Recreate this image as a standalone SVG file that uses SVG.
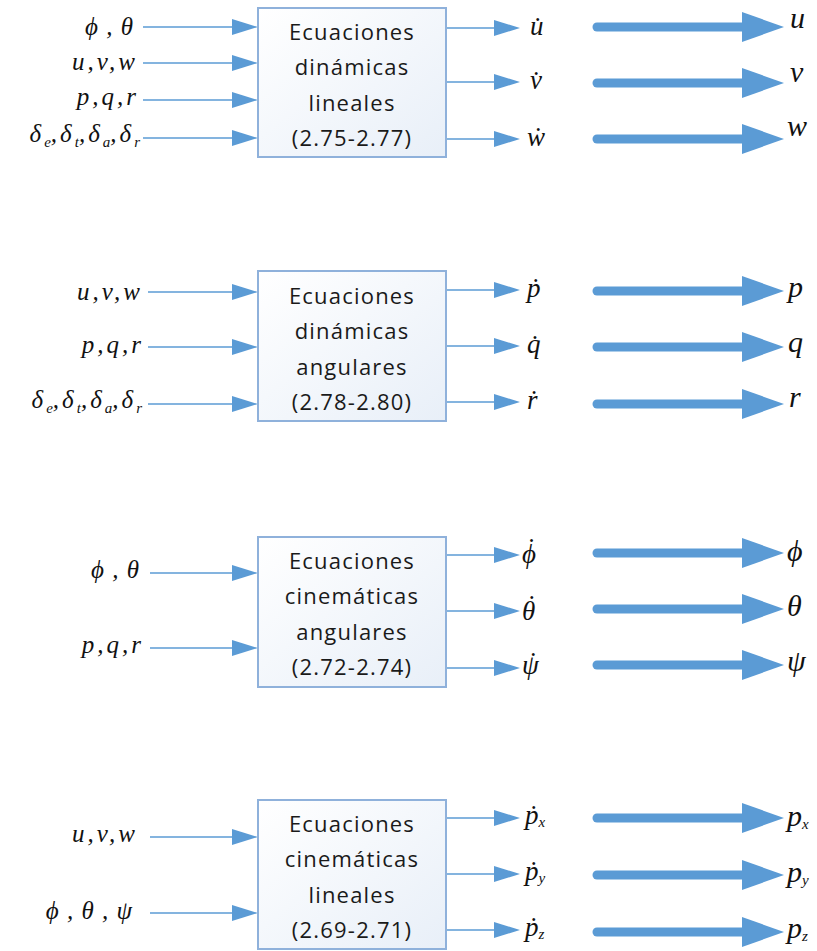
<svg xmlns="http://www.w3.org/2000/svg" width="817" height="951" viewBox="0 0 817 951">
<style>
.box{fill:url(#bg);stroke:#8FB1DB;stroke-width:2}
.bt{font-family:"Open Sans","Liberation Sans",sans-serif;font-size:22px;letter-spacing:1.2px;fill:#1a1a1a;text-anchor:middle}
.thin{stroke:#5B9BD5;stroke-width:1.6;fill:none;marker-end:url(#ah)}
.thick{stroke:#5B9BD5;stroke-width:9;stroke-linecap:round;fill:none;marker-end:url(#ahb)}
.m{font-family:"Liberation Serif","DejaVu Serif",serif;font-style:italic;fill:#111}
.dot{font-style:normal}
.in{font-size:25px;text-anchor:end;letter-spacing:3px}
.gr{letter-spacing:1px}
.out{font-size:27px}
.fin{font-size:30px}
.sub{font-size:15px;letter-spacing:0}
</style>
<defs>
<linearGradient id="bg" x1="0" y1="0" x2="1" y2="1">
<stop offset="0" stop-color="#FFFFFF"/>
<stop offset="1" stop-color="#E8EFF8"/>
</linearGradient>
<marker id="ah" markerUnits="userSpaceOnUse" markerWidth="26" markerHeight="16" refX="0" refY="8" orient="auto">
<path d="M0,0 L26,8 L0,16 z" fill="#5B9BD5"/>
</marker>
<marker id="ahb" markerUnits="userSpaceOnUse" markerWidth="42" markerHeight="30" refX="0" refY="15" orient="auto">
<path d="M0,0 L42,15 L0,30 z" fill="#5B9BD5"/>
</marker>
</defs>

<g id="connectors">
<line class="thin" x1="143" y1="27" x2="232" y2="27"/>
<line class="thin" x1="143" y1="63" x2="232" y2="63"/>
<line class="thin" x1="143" y1="100" x2="232" y2="100"/>
<line class="thin" x1="143" y1="138" x2="232" y2="138"/>
<line class="thin" x1="446" y1="28" x2="494" y2="28"/>
<line class="thin" x1="446" y1="82" x2="494" y2="82"/>
<line class="thin" x1="446" y1="139" x2="494" y2="139"/>
<line class="thick" x1="597" y1="27" x2="742" y2="27"/>
<line class="thick" x1="597" y1="83" x2="742" y2="83"/>
<line class="thick" x1="597" y1="139" x2="742" y2="139"/>
<line class="thin" x1="148" y1="292" x2="232" y2="292"/>
<line class="thin" x1="148" y1="347" x2="232" y2="347"/>
<line class="thin" x1="148" y1="404" x2="232" y2="404"/>
<line class="thin" x1="446" y1="290" x2="494" y2="290"/>
<line class="thin" x1="446" y1="346" x2="494" y2="346"/>
<line class="thin" x1="446" y1="402" x2="494" y2="402"/>
<line class="thick" x1="597" y1="291" x2="742" y2="291"/>
<line class="thick" x1="597" y1="347" x2="742" y2="347"/>
<line class="thick" x1="597" y1="404" x2="742" y2="404"/>
<line class="thin" x1="150" y1="573" x2="232" y2="573"/>
<line class="thin" x1="150" y1="648" x2="232" y2="648"/>
<line class="thin" x1="446" y1="555" x2="494" y2="555"/>
<line class="thin" x1="446" y1="611" x2="494" y2="611"/>
<line class="thin" x1="446" y1="668" x2="494" y2="668"/>
<line class="thick" x1="597" y1="553" x2="742" y2="553"/>
<line class="thick" x1="597" y1="609" x2="742" y2="609"/>
<line class="thick" x1="597" y1="665" x2="742" y2="665"/>
<line class="thin" x1="150" y1="837" x2="232" y2="837"/>
<line class="thin" x1="150" y1="913" x2="232" y2="913"/>
<line class="thin" x1="446" y1="818" x2="494" y2="818"/>
<line class="thin" x1="446" y1="874" x2="494" y2="874"/>
<line class="thin" x1="446" y1="930" x2="494" y2="930"/>
<line class="thick" x1="597" y1="818" x2="742" y2="818"/>
<line class="thick" x1="597" y1="875" x2="742" y2="875"/>
<line class="thick" x1="597" y1="932" x2="742" y2="932"/>
</g>

<g id="node-lineales-dinamicas">
<rect class="box" x="258" y="8" width="188" height="149"/>
<text class="bt" x="352" y="40">Ecuaciones</text>
<text class="bt" x="352" y="75">dinámicas</text>
<text class="bt" x="352" y="111">lineales</text>
<text class="bt" x="352" y="146">(2.75-2.77)</text>
</g>
<g id="node-angulares-dinamicas">
<rect class="box" x="258" y="271" width="188" height="150"/>
<text class="bt" x="352" y="304">Ecuaciones</text>
<text class="bt" x="352" y="339">dinámicas</text>
<text class="bt" x="352" y="375">angulares</text>
<text class="bt" x="352" y="410">(2.78-2.80)</text>
</g>
<g id="node-angulares-cinematicas">
<rect class="box" x="258" y="537" width="188" height="150"/>
<text class="bt" x="352" y="569">Ecuaciones</text>
<text class="bt" x="352" y="604">cinemáticas</text>
<text class="bt" x="352" y="640">angulares</text>
<text class="bt" x="352" y="675">(2.72-2.74)</text>
</g>
<g id="node-lineales-cinematicas">
<rect class="box" x="258" y="800" width="188" height="149"/>
<text class="bt" x="352" y="832">Ecuaciones</text>
<text class="bt" x="352" y="867">cinemáticas</text>
<text class="bt" x="352" y="903">lineales</text>
<text class="bt" x="352" y="938">(2.69-2.71)</text>
</g>

<g id="labels-inputs">
<text class="m in gr" x="134" y="35">ϕ , θ</text>
<text class="m in" x="138" y="70">u,v,w</text>
<text class="m in" x="139" y="105" letter-spacing="5">p,q,r</text>
<text class="m in" x="140" y="142" font-size="30" letter-spacing="1">δ<tspan class="sub" dy="5">e</tspan><tspan dy="-5">,δ</tspan><tspan class="sub" dy="5">t</tspan><tspan dy="-5">,δ</tspan><tspan class="sub" dy="5">a</tspan><tspan dy="-5">,δ</tspan><tspan class="sub" dy="5">r</tspan></text>

<text class="m in" x="143" y="300">u,v,w</text>
<text class="m in" x="144" y="353" letter-spacing="5">p,q,r</text>
<text class="m in" x="142" y="408" font-size="30" letter-spacing="1">δ<tspan class="sub" dy="5">e</tspan><tspan dy="-5">,δ</tspan><tspan class="sub" dy="5">t</tspan><tspan dy="-5">,δ</tspan><tspan class="sub" dy="5">a</tspan><tspan dy="-5">,δ</tspan><tspan class="sub" dy="5">r</tspan></text>

<text class="m in gr" x="140" y="578">ϕ , θ</text>
<text class="m in" x="144" y="653" letter-spacing="5">p,q,r</text>

<text class="m in" x="138" y="842">u,v,w</text>
<text class="m in gr" x="133" y="919">ϕ , θ , ψ</text>
</g>

<g id="labels-outputs">
<text class="m out" x="530" y="35">u̇</text>
<text class="m out" x="530" y="89">v̇</text>
<text class="m out" x="527" y="146">ẇ</text>
<text class="m out" x="527" y="297">ṗ</text>
<text class="m out" x="527" y="353">q̇</text>
<text class="m out" x="527" y="409">ṙ</text>
<text class="m out" x="522" y="563">ϕ<tspan class="dot" dx="-9" dy="-6">˙</tspan></text>
<text class="m out" x="522" y="620">θ<tspan class="dot" dx="-8" dy="-6">˙</tspan></text>
<text class="m out" x="522" y="674">ψ<tspan class="dot" dx="-10" dy="-3">˙</tspan></text>
<text class="m out" x="525" y="824">ṗ<tspan class="sub" dy="3">x</tspan></text>
<text class="m out" x="525" y="880">ṗ<tspan class="sub" dy="3">y</tspan></text>
<text class="m out" x="525" y="936">ṗ<tspan class="sub" dy="3">z</tspan></text>

<text class="m fin" x="790" y="28">u</text>
<text class="m fin" x="790" y="82">v</text>
<text class="m fin" x="787" y="136">w</text>
<text class="m fin" x="788" y="297">p</text>
<text class="m fin" x="788" y="352">q</text>
<text class="m fin" x="789" y="407">r</text>
<text class="m fin" x="787" y="561">ϕ</text>
<text class="m fin" x="787" y="616">θ</text>
<text class="m fin" x="787" y="671">ψ</text>
<text class="m fin" x="787" y="826">p<tspan class="sub" dy="3">x</tspan></text>
<text class="m fin" x="787" y="882">p<tspan class="sub" dy="3">y</tspan></text>
<text class="m fin" x="787" y="938">p<tspan class="sub" dy="3">z</tspan></text>
</g>
</svg>
